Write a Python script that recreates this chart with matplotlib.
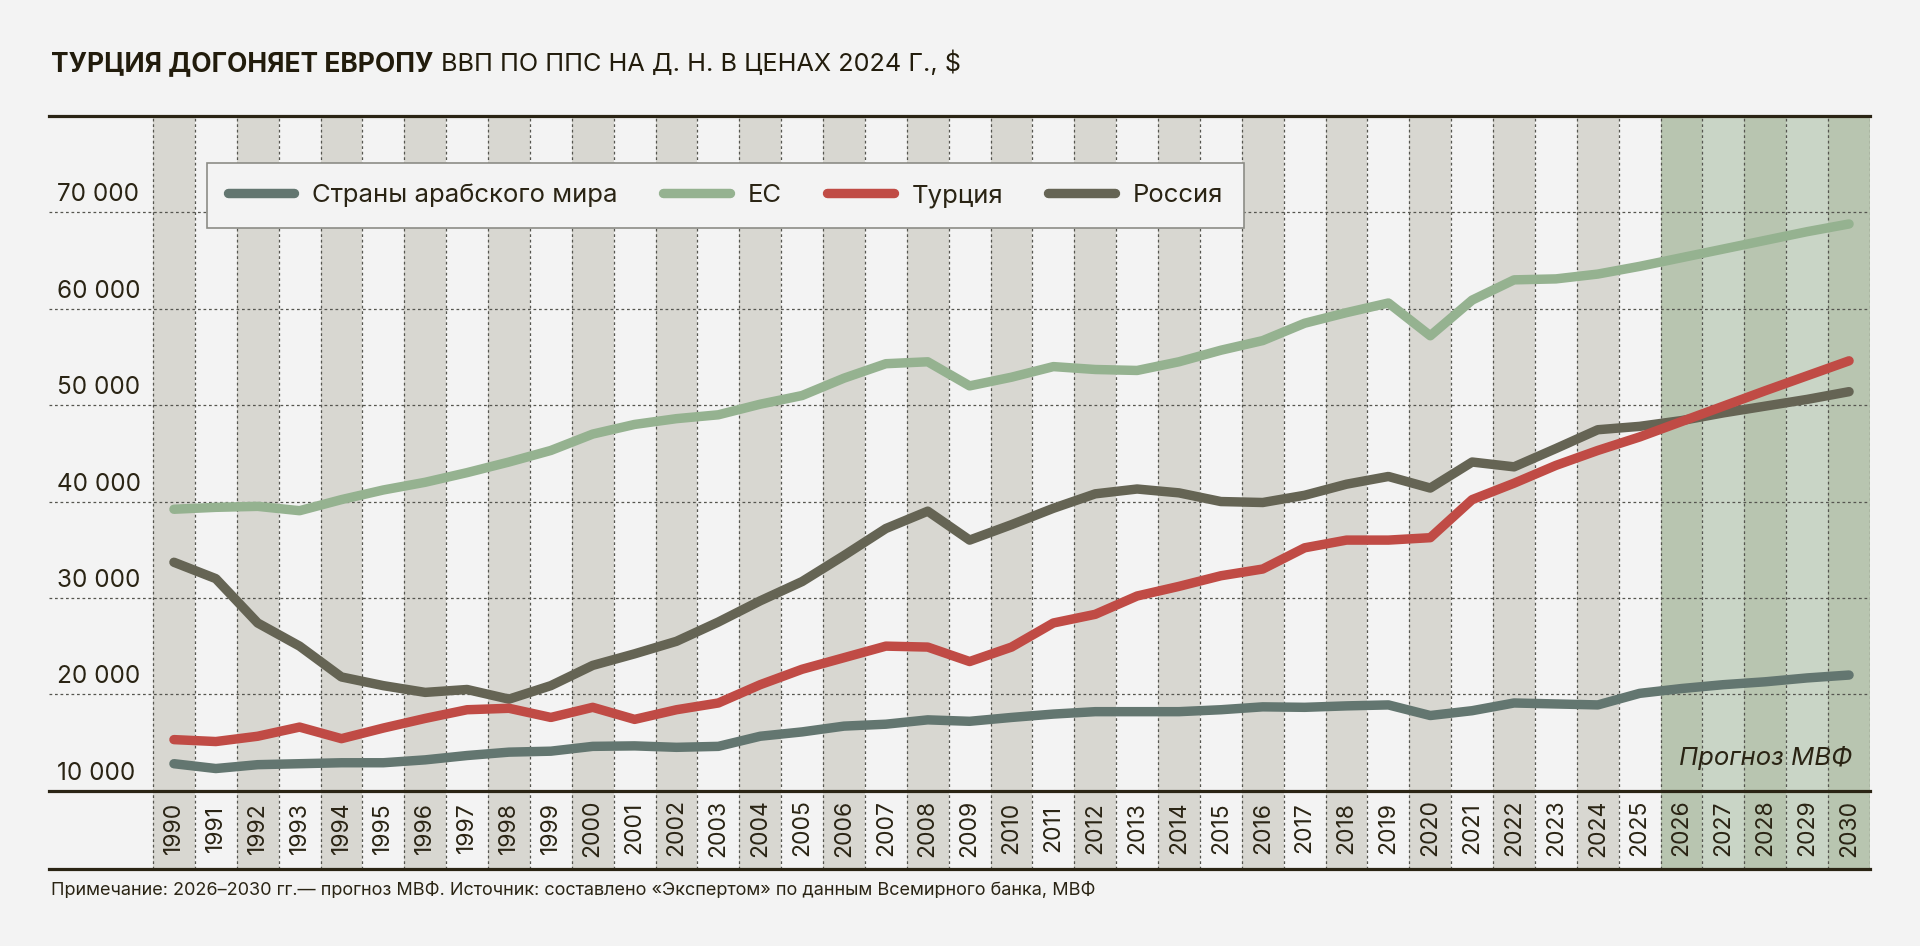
import matplotlib
matplotlib.use('Agg')
import matplotlib.pyplot as plt
import numpy as np

plt.rcParams['font.family'] = ['Inter', 'DejaVu Sans']

# ---------------- data ----------------
years = list(range(1990, 2031))
arab = [12800, 12300, 12700, 12800, 12900, 12900, 13200, 13650, 14000, 14100,
        14600, 14650, 14500, 14600, 15650, 16100, 16700, 16900, 17350, 17200,
        17600, 17950, 18200, 18200, 18200, 18400, 18700, 18650, 18800, 18900,
        17800, 18300, 19100, 19000, 18900, 20100, 20600, 21000, 21300, 21700, 22000]
eu = [39200, 39400, 39500, 39050, 40200, 41200, 42000, 43000, 44100, 45300,
      47000, 48000, 48600, 49000, 50100, 51000, 52800, 54300, 54500, 52000,
      52900, 54000, 53700, 53600, 54500, 55700, 56700, 58500, 59600, 60600,
      57200, 60900, 63000, 63100, 63600, 64400, 65300, 66200, 67100, 68000, 68800]
turkey = [15300, 15100, 15650, 16600, 15400, 16500, 17500, 18400, 18550, 17600,
          18650, 17400, 18400, 19100, 21000, 22600, 23800, 25000, 24900, 23400,
          24900, 27400, 28300, 30200, 31200, 32300, 33000, 35200, 36000, 36000,
          36250, 40200, 41900, 43750, 45300, 46700, 48300, 49900, 51500, 53050, 54600]
russia = [33700, 32000, 27400, 25000, 21800, 20900, 20200, 20500, 19500, 20900,
          23000, 24200, 25500, 27500, 29700, 31700, 34400, 37200, 39000, 36000,
          37600, 39300, 40800, 41300, 40900, 40000, 39900, 40650, 41800, 42600,
          41400, 44100, 43600, 45500, 47450, 47800, 48400, 49200, 49900, 50600, 51400]
series_names = ['Страны арабского мира', 'ЕС', 'Турция', 'Россия']
y_ticks = [10000, 20000, 30000, 40000, 50000, 60000, 70000]
forecast_start = 2026

title_bold = 'ТУРЦИЯ ДОГОНЯЕТ ЕВРОПУ'
title_rest = 'ВВП ПО ППС НА Д. Н. В ЦЕНАХ 2024 Г., $'
footnote = ('Примечание: 2026–2030 гг.— прогноз МВФ. Источник: составлено '
            '«Экспертом» по данным Всемирного банка, МВФ')
forecast_label = 'Прогноз МВФ'

# ---------------- style ----------------
BG = '#f3f3f3'
TXT = '#2a2414'
GRID = '#55554f'
BAND = '#d8d7d1'
F_DARK = '#b8c5b0'
F_LIGHT = '#c9d5c6'
colors = ['#637670', '#95b290', '#c04b45', '#656454']

W, H = 1920, 946
fig = plt.figure(figsize=(W / 100, H / 100), dpi=100, facecolor=BG)

left, right, top, bottom = 49, 1870, 116, 869
col_w = (right - 153) / 41.0
ax = fig.add_axes([left / W, 1 - bottom / H, (right - left) / W, (bottom - top) / H])
ax.set_facecolor(BG)
x0 = 1989.5 - (153 - left) / col_w
x1 = 2030.5
ppu = (790.7 - top) / 70000.0  # pixels per unit
y_low = 10000 - (bottom - 790.7) / ppu
ax.set_xlim(x0, x1)
ax.set_ylim(y_low, 80000)
for s in ax.spines.values():
    s.set_visible(False)
ax.set_xticks([])
ax.set_yticks([])

# bands
for yr in years:
    if yr >= forecast_start:
        c = F_DARK if yr % 2 == 0 else F_LIGHT
    elif yr % 2 == 0:
        c = BAND
    else:
        continue
    ax.axvspan(yr - 0.5, yr + 0.5, color=c, lw=0, zorder=0)

# vertical dashed lines
for b in np.arange(years[0] - 0.5, years[-1] + 1.0, 1.0):
    ax.axvline(b, color=GRID, lw=0.9, ls=(0, (2.2, 2.2)), zorder=1)

# horizontal dashed gridlines
for v in y_ticks[1:]:
    ax.hlines(v, x0, x1, color=GRID, lw=0.9, ls=(0, (2.2, 2.2)), zorder=1)

# thick rules
for v in (80000, 10000, y_low):
    ax.axhline(v, color=TXT, lw=2.3, zorder=5, clip_on=False)

# y labels
for v in y_ticks:
    ax.text(x0 + 8 / col_w, v + 11 / ppu, f'{v // 1000} 000', fontsize=17.5,
            color=TXT, ha='left', va='baseline', zorder=6)

# year labels
y_mid = 10000 - (828 - 790.7) / ppu
for yr in years:
    ax.text(yr, y_mid, str(yr), rotation=90, fontsize=16.5, color=TXT,
            ha='center', va='center', zorder=6)

# series
handles = []
for vals, c, name, z in zip([arab, eu, turkey, russia], colors, series_names, [3, 3, 4, 3.5]):
    ln, = ax.plot(years, vals, color=c, lw=6.8, solid_capstyle='round',
                  solid_joinstyle='round', zorder=z, label=name)
    handles.append(ln)

leg = ax.legend(handles=handles, ncol=4, loc='upper left',
                bbox_to_anchor=(207 / W, 1 - 163 / H), bbox_transform=fig.transFigure,
                frameon=True, fancybox=False, edgecolor='#8c8c86', facecolor=BG,
                framealpha=1, fontsize=18.5, handlelength=2.6, handletextpad=0.7,
                columnspacing=1.75, borderpad=0.8, borderaxespad=0, labelcolor=TXT)
leg.get_frame().set_linewidth(1.2)
leg.set_zorder(10)

# forecast label
ax.text(x0 + (1852 - left) / col_w, 10000 + (790.7 - 757.6) / ppu, forecast_label,
        fontsize=18.5, style='italic', color=TXT, ha='right', va='center', zorder=6)

# title
t1 = fig.text(51 / W, 1 - 70.7 / H, title_bold, fontsize=19.0, weight='bold',
              color='#221c0c', ha='left', va='baseline')
fig.canvas.draw()
bb = t1.get_window_extent(renderer=fig.canvas.get_renderer())
fig.text(bb.x1 / W + 8 / W, 1 - 70.7 / H, title_rest, fontsize=18.2,
         color='#221c0c', ha='left', va='baseline')

# footnote
fig.text(51 / W, 1 - 890 / H, footnote, fontsize=13, color=TXT, ha='left', va='center')

fig.savefig('out.png', dpi=100, facecolor=BG)
